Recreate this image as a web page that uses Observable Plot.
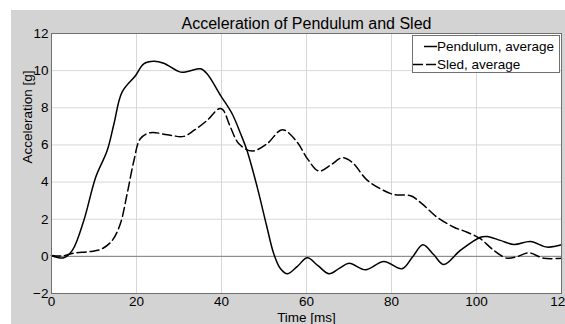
<!DOCTYPE html>
<html>
<head>
<meta charset="utf-8">
<script src="https://cdn.jsdelivr.net/npm/d3@7"></script>
<script src="https://cdn.jsdelivr.net/npm/@observablehq/plot@0.6"></script>
<style>
  html, body { margin: 0; padding: 0; background: #ffffff; }
  body { width: 565px; height: 324px; overflow: hidden; position: relative; font-family: "Liberation Sans", Arial, sans-serif; }
  #panel { position: absolute; left: 11px; top: 10px; width: 554px; height: 314px; background: #d3d3d3; }
  #legend { position: absolute; left: 412px; top: 35px; width: 146px; height: 36px; background: #fff; border: 1px solid #707070; box-sizing: content-box; }
  #legend .row { position: absolute; left: 0; height: 18px; font-size: 13.5px; color: #000; white-space: nowrap; }
  #legend svg { position: absolute; left: 0; top: 0; }
  #legend span { position: absolute; left: 24px; top: 1px; }
</style>
</head>
<body>
<div id="panel"></div>
<div id="legend"></div>
<script>
// ---- data ----
const pendulumT = [0, 2.9, 4.9, 7.6, 10.4, 13.1, 14.7, 16.6, 19.8, 21.7, 24.1, 26.4, 30.4, 32.3, 35.1, 36.6, 39.8, 42.5, 44.5, 46.0, 48.4, 50.7, 52.3, 53.9, 55.5, 57.8, 60.2, 62.7, 65.3, 67.7, 70.0, 73.9, 78.2, 82.5, 84.9, 87.4, 89.9, 92.3, 96.2, 100.9, 102.5, 105.6, 108.8, 112.7, 116.6, 120];
const pendulumG = [0.05, -0.08, 0.32, 1.93, 4.26, 5.7, 7.14, 8.84, 9.74, 10.37, 10.51, 10.4, 9.92, 9.97, 10.1, 9.83, 8.66, 7.68, 6.6, 5.7, 3.73, 1.57, 0.14, -0.67, -0.94, -0.55, -0.08, -0.5, -0.94, -0.65, -0.37, -0.72, -0.28, -0.67, -0.05, 0.62, 0.1, -0.44, 0.32, 1.03, 1.07, 0.86, 0.64, 0.8, 0.5, 0.62];
const sledT = [0, 2.5, 5.2, 9.2, 11.9, 14.3, 16.2, 17.8, 19.4, 20.9, 23.3, 27.2, 31.1, 33.5, 36.6, 39.4, 40.3, 42.1, 44.1, 47.2, 50.7, 54.3, 57.8, 60.2, 62.9, 65.6, 68.4, 70.7, 74.2, 77.4, 80.5, 84.5, 87.2, 90.7, 94.7, 97.8, 100.9, 104.1, 107.2, 109.6, 112.3, 115.8, 120];
const sledG = [0.05, 0.02, 0.17, 0.26, 0.41, 0.86, 1.76, 3.37, 5.16, 6.33, 6.66, 6.55, 6.46, 6.78, 7.32, 7.95, 7.9, 6.96, 6.06, 5.67, 6.06, 6.82, 6.15, 5.26, 4.59, 4.9, 5.31, 5.07, 4.12, 3.64, 3.33, 3.26, 2.83, 2.11, 1.57, 1.30, 0.95, 0.32, -0.1, -0.01, 0.19, -0.1, -0.1];
const xTicks = [0, 20, 40, 60, 80, 100, 120];
const yTicks = [-2, 0, 2, 4, 6, 8, 10, 12];
const seriesNames = ["Pendulum, average", "Sled, average"];
const titleText = "Acceleration of Pendulum and Sled";
const xLabel = "Time [ms]";
const yLabel = "Acceleration [g]";

const pendulum = pendulumT.map((t, i) => ({t, g: pendulumG[i]}));
const sled = sledT.map((t, i) => ({t, g: sledG[i]}));

const chart = Plot.plot({
  width: 554,
  height: 314,
  marginLeft: 40,
  marginTop: 23,
  marginRight: 4,
  marginBottom: 31,
  style: {background: "transparent", fontFamily: "'Liberation Sans', Arial, sans-serif", fontSize: "13.5px", color: "#000", overflow: "visible"},
  x: {domain: [0, 120]},
  y: {domain: [-2, 12]},
  marks: [
    Plot.frame({fill: "#ffffff"}),
    Plot.gridX(xTicks, {stroke: "#d8d8d8", strokeOpacity: 1}),
    Plot.gridY(yTicks, {stroke: "#d8d8d8", strokeOpacity: 1}),
    Plot.ruleY([0], {stroke: "#808080", strokeWidth: 1}),
    Plot.line(pendulum, {x: "t", y: "g", curve: "catmull-rom", stroke: "#000", strokeWidth: 1.5}),
    Plot.line(sled, {x: "t", y: "g", curve: "catmull-rom", stroke: "#000", strokeWidth: 1.5, strokeDasharray: "9,4"}),
    Plot.frame({stroke: "#707070"}),
    Plot.axisX(xTicks, {tickSize: 0, tickPadding: 3, fontSize: 13.5, label: null}),
    Plot.axisY(yTicks, {tickSize: 0, tickPadding: 3, fontSize: 13.5, label: null}),
    Plot.text([titleText], {frameAnchor: "top", lineAnchor: "bottom", dy: -4.5, fontSize: 16, fill: "#000"}),
    Plot.text([xLabel], {frameAnchor: "bottom", lineAnchor: "bottom", dy: 28, fontSize: 13.5, fill: "#000"}),
    Plot.text([yLabel], {frameAnchor: "left", rotate: -90, dx: -24, fontSize: 13.5, fill: "#000"})
  ]
});
document.getElementById("panel").appendChild(chart);

// legend
const legend = document.getElementById("legend");
seriesNames.forEach((name, i) => {
  const row = document.createElement("div");
  row.className = "row";
  row.style.top = (i === 0 ? 2 : 20) + "px";
  row.style.width = "146px";
  const dash = i === 0 ? "" : ' stroke-dasharray="10,3"';
  const x1 = i === 0 ? 11 : 0;
  row.innerHTML = `<svg width="24" height="18"><line x1="${x1}" x2="24" y1="8.5" y2="8.5" stroke="#000" stroke-width="1.5"${dash}/></svg><span>${name}</span>`;
  legend.appendChild(row);
});
</script>
</body>
</html>
